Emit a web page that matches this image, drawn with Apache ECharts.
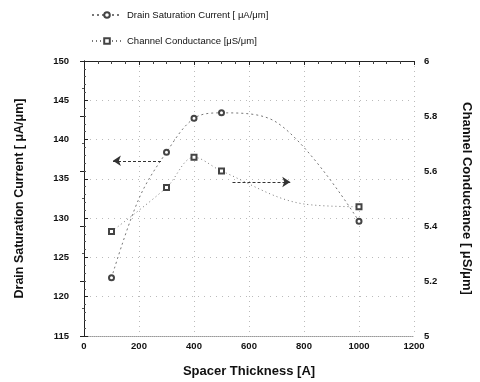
<!DOCTYPE html>
<html>
<head>
<meta charset="utf-8">
<script src="https://cdn.jsdelivr.net/npm/echarts@6/dist/echarts.min.js"></script>
<style>
    html, body {margin: 0; padding: 0; background: #fff;}
    #chart {width: 480px; height: 382px;}
</style>
</head>
<body>
<div id="chart"></div>
<script>
// 数据
var thickness = [100, 200, 300, 400, 500, 700, 1000];
var drainCurrent = [122.4, 132.5, 138.4, 142.7, 143.4, 142.2, 129.6];
var drainMarked = [true, false, true, true, true, false, true];
var condThickness = [100, 300, 400, 500, 800, 1000];
var conductance = [5.38, 5.54, 5.65, 5.60, 5.48, 5.47];
var condMarked = [true, true, true, true, false, true];
var xTicks = {min: 0, max: 1200, interval: 200};
var leftTicks = {min: 115, max: 150, interval: 5};
var rightTicks = {min: 5, max: 6, interval: 0.2};
// 箭头注释 [x起点, x终点, y]
var leftArrow = [280, 105, 137.3];
var rightArrow = [540, 750, 5.56];

var font = 'Liberation Sans, Arial, sans-serif';

function pairs(xs, ys, marked) {
    return xs.map(function (x, i) {
        var d = {value: [x, ys[i]]};
        if (!marked[i]) d.symbol = 'none';
        return d;
    });
}

var chart = echarts.init(document.getElementById('chart'));
var option = {
    animation: false,
    backgroundColor: '#fff',
    grid: {left: 84, right: 66, top: 61, bottom: 46, show: false, containLabel: false, outerBoundsMode: 'none'},
    legend: {
        orient: 'vertical',
        left: 86,
        top: 5,
        itemGap: 16,
        itemWidth: 30,
        itemHeight: 7,
        textStyle: {fontFamily: font, fontSize: 9.5, color: '#111'},
        data: ['Drain Saturation Current [ μA/μm]', 'Channel Conductance [μS/μm]']
    },
    xAxis: [{
        type: 'value',
        min: xTicks.min, max: xTicks.max, interval: xTicks.interval,
        name: 'Spacer Thickness [A]',
        nameLocation: 'middle',
        nameGap: 29,
        nameTextStyle: {fontFamily: font, fontSize: 13, fontWeight: 'bold', color: '#111'},
        axisLine: {show: true, lineStyle: {color: '#999', width: 1, type: 'dotted'}},
        axisTick: {show: false},
        axisLabel: {
            fontFamily: font, fontSize: 9.5, fontWeight: 'bold', color: '#111', margin: 5,
            formatter: function (v) { return String(v); }
        },
        splitLine: {show: true, lineStyle: {color: '#bbb', type: [1, 4], width: 1}}
    }, {
        type: 'value',
        position: 'top',
        min: xTicks.min, max: xTicks.max, interval: xTicks.interval,
        axisLine: {show: true, lineStyle: {color: '#222', width: 1}},
        axisTick: {show: true, inside: true, length: 4, lineStyle: {color: '#222'}},
        minorTick: {show: true, splitNumber: 4, length: 3, lineStyle: {color: '#444'}},
        axisLabel: {show: false},
        splitLine: {show: false}
    }],
    yAxis: [{
        type: 'value',
        position: 'left',
        min: leftTicks.min, max: leftTicks.max, interval: leftTicks.interval,
        name: 'Drain Saturation Current [ μA/μm]',
        nameLocation: 'middle',
        nameGap: 58,
        nameTextStyle: {fontFamily: font, fontSize: 12.5, fontWeight: 'bold', color: '#111'},
        axisLine: {show: true, lineStyle: {color: '#222', width: 1}},
        axisTick: {show: true, inside: true, length: 4, lineStyle: {color: '#222'}},
        minorTick: {show: true, splitNumber: 5, length: 2, lineStyle: {color: '#555'}},
        axisLabel: {fontFamily: font, fontSize: 9.5, fontWeight: 'bold', color: '#111', margin: 15},
        splitLine: {show: true, lineStyle: {color: '#bbb', type: [1, 5], width: 1}}
    }, {
        type: 'value',
        position: 'right',
        min: rightTicks.min, max: rightTicks.max, interval: rightTicks.interval,
        name: 'Channel Conductance [ μS/μm]',
        nameLocation: 'middle',
        nameGap: 46,
        nameRotate: -90,
        nameTextStyle: {fontFamily: font, fontSize: 13, fontWeight: 'bold', color: '#111'},
        axisLine: {show: true, lineStyle: {color: '#222', width: 1}},
        axisTick: {show: true, inside: true, length: 4, lineStyle: {color: '#222'}},
        minorTick: {show: true, splitNumber: 2, length: 2, lineStyle: {color: '#555'}},
        axisLabel: {fontFamily: font, fontSize: 9.5, fontWeight: 'bold', color: '#111', margin: 10},
        splitLine: {show: false}
    }],
    series: [{
        name: 'Drain Saturation Current [ μA/μm]',
        type: 'line',
        yAxisIndex: 0,
        smooth: 0.35,
        symbol: 'emptyCircle',
        symbolSize: 5,
        itemStyle: {color: '#444', borderWidth: 1},
        lineStyle: {color: '#777', width: 1, type: [2, 3]},
        data: pairs(thickness, drainCurrent, drainMarked),
        markLine: {
            silent: true,
            symbol: ['none', 'arrow'],
            symbolSize: 8,
            label: {show: false},
            lineStyle: {color: '#333', width: 1, type: [3, 2]},
            data: [[{coord: [leftArrow[0], leftArrow[2]]}, {coord: [leftArrow[1], leftArrow[2]]}]]
        }
    }, {
        name: 'Channel Conductance [μS/μm]',
        type: 'line',
        yAxisIndex: 1,
        smooth: 0.35,
        symbol: 'emptyRect',
        symbolSize: 5,
        itemStyle: {color: '#444', borderWidth: 1},
        lineStyle: {color: '#777', width: 1, type: [1, 3]},
        data: pairs(condThickness, conductance, condMarked),
        markLine: {
            silent: true,
            symbol: ['none', 'arrow'],
            symbolSize: 8,
            label: {show: false},
            lineStyle: {color: '#333', width: 1, type: [3, 2]},
            data: [[{coord: [rightArrow[0], rightArrow[2]]}, {coord: [rightArrow[1], rightArrow[2]]}]]
        }
    }]
};
chart.setOption(option);
</script>
</body>
</html>
